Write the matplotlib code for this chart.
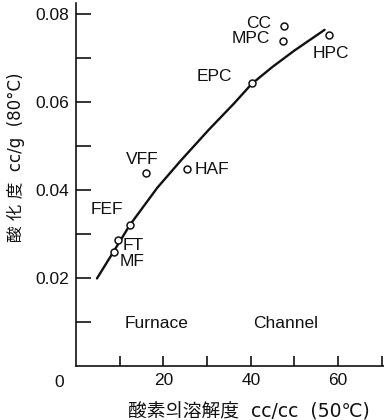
import matplotlib.pyplot as plt
from matplotlib.ticker import FixedLocator, NullFormatter

plt.rcParams['font.family'] = ['Liberation Sans', 'Noto Sans CJK KR']
plt.rcParams['font.size'] = 12.5

# carbon black grades: solubility of oxygen vs degree of oxidation
grades = ['CC', 'MPC', 'HPC', 'EPC', 'VFF', 'HAF', 'FEF', 'FT', 'MF']
solub = [47.6, 47.3, 57.9, 40.2, 16.1, 25.5, 12.3, 9.7, 8.7]
oxid = [0.0773, 0.0739, 0.0752, 0.0643, 0.0438, 0.0447, 0.0321, 0.0286, 0.0260]

# label offsets (points) and alignment for each grade
lab_off = [(-9, 2), (-9, 2), (-12, -13), (-14, 5), (-3, 10), (5, 0), (-5, 11), (3, -4), (4, -7)]
lab_ha = ['right', 'right', 'left', 'right', 'center', 'left', 'right', 'left', 'left']

# hand-drawn trend line
curve_x = [4.8, 8.6, 12.3, 18.6, 24.0, 30.4, 36.2, 40.2, 45.0, 50.0, 56.9]
curve_y = [0.0199, 0.0260, 0.0320, 0.0405, 0.0467, 0.0537, 0.0597, 0.0641, 0.0680, 0.0717, 0.0764]

fig = plt.figure(figsize=(3.84, 4.20), dpi=100)
ax = fig.add_axes([76 / 384, 54 / 420, 308 / 384, 363 / 420])

ax.plot(curve_x, curve_y, color='#111111', lw=1.7, zorder=2,
        solid_joinstyle='round', solid_capstyle='round')
ax.plot(solub, oxid, 'o', ms=5, mfc='white', mec='#111111', mew=1.1, zorder=3)

for g, x, y, off, ha in zip(grades, solub, oxid, lab_off, lab_ha):
    ax.annotate(g, (x, y), xytext=off, textcoords='offset points',
                ha=ha, va='center', fontsize=12.5, color='#111111')

ax.text(18.5, 0.0097, 'Furnace', ha='center', va='center', fontsize=12.5, color='#111111')
ax.text(48, 0.0097, 'Channel', ha='center', va='center', fontsize=12.5, color='#111111')

ax.set_xlim(0, 70.5)
ax.set_ylim(0, 0.0825)
ax.spines['top'].set_visible(False)
ax.spines['right'].set_visible(False)
for s in ('left', 'bottom'):
    ax.spines[s].set_linewidth(1.2)
    ax.spines[s].set_color('#111111')

ax.xaxis.set_major_locator(FixedLocator([20, 40, 60]))
ax.xaxis.set_minor_locator(FixedLocator([10, 30, 50, 70]))
ax.yaxis.set_major_locator(FixedLocator([0.02, 0.04, 0.06, 0.08]))
ax.yaxis.set_minor_locator(FixedLocator([0.01, 0.03, 0.05, 0.07]))
ax.set_yticklabels(['0.02', '0.04', '0.06', '0.08'])
ax.xaxis.set_minor_formatter(NullFormatter())
ax.yaxis.set_minor_formatter(NullFormatter())
ax.tick_params(axis='x', which='both', direction='in', length=7, width=1.2, pad=5,
               labelsize=12.5, colors='#111111')
ax.tick_params(axis='y', which='both', direction='in', length=11, width=1.2, pad=5,
               labelsize=12.5, colors='#111111')

# shared origin label
ax.annotate('0', (0, 0), xytext=(-12, -12), textcoords='offset points',
            ha='center', va='center', fontsize=12.5, color='#111111')

lab_font = ['DejaVu Sans', 'Noto Sans CJK KR']
ax.set_xlabel('酸素의溶解度  cc/cc  (50℃)', fontsize=13.5, family=lab_font,
              labelpad=5, color='#111111')
ax.xaxis.set_label_coords(0.56, -0.1)
ax.set_ylabel('酸 化 度  cc/g  (80°C)', fontsize=12, family=lab_font,
              color='#111111')
ax.yaxis.set_label_coords(-0.165, 0.575)

fig.savefig('out.png', dpi=100)
